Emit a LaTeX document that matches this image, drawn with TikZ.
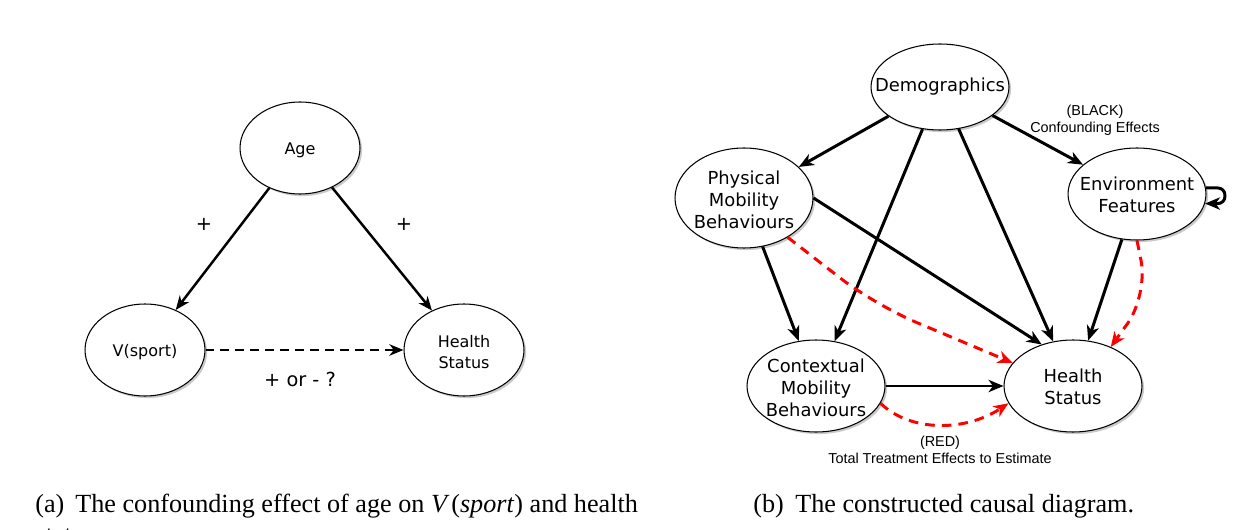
\documentclass[tikz,border=0pt]{standalone}
\usepackage{fontspec}
\setmainfont{Liberation Serif}
\newfontfamily\dvs{DejaVu Sans}
\newfontfamily\lib{Liberation Sans}
\usetikzlibrary{shapes.geometric,arrows.meta,shadows}
\begin{document}
\begin{tikzpicture}[x=0.02cm, y=-0.02cm,
  ell/.style={ellipse, draw=black, line width=0.6pt, fill=white, inner sep=0pt,
    drop shadow={shadow xshift=1.2pt, shadow yshift=-1.2pt, fill=black!60, opacity=0.35}},
  lell/.style={ell, minimum width=2.4cm, minimum height=1.84cm},
  rell/.style={ell, minimum width=2.76cm, minimum height=1.84cm},
  lt/.style={font=\dvs\fontsize{9.1}{12.3}\selectfont, align=center, inner sep=0pt},
  rt/.style={font=\dvs\fontsize{10.2}{12.5}\selectfont, align=center, inner sep=0pt},
  pl/.style={font=\dvs\fontsize{11}{13}\selectfont, inner sep=0pt},
  lab/.style={font=\lib\fontsize{8.2}{9.7}\selectfont, align=center, inner sep=0pt},
  captxt/.style={font=\fontsize{14.9}{17.9}\selectfont, inner sep=0pt, anchor=base west},
  lblk/.style={line width=1.4pt, -{Stealth[length=8pt, width=6.5pt, inset=2.5pt]}},
  ldash/.style={line width=1.4pt, dash pattern=on 5pt off 3.5pt, -{Stealth[length=8pt, width=6.5pt, inset=2.5pt]}},
  blk/.style={line width=1.7pt, -{Stealth[length=8.5pt, width=7pt, inset=2.5pt]}},
  rdash/.style={draw=red, line width=1.7pt, dash pattern=on 5.5pt off 4pt, -{Stealth[length=8.5pt, width=7pt, inset=2.5pt]}, red}
]
\useasboundingbox (0,0) rectangle (1247,530);

% ---------- left diagram ----------
\node[lell] (age) at (300,148) {};
\node[lt] (aget) at (300,150) {Age};
\node[lell] (vs) at (145,350) {};
\node[lt] (vst) at (145,352) {V(sport)};
\node[lell] (hl) at (464,350) {};
\node[lt] (hlt) at (464,352) {Health\\Status};

\draw[lblk] (age) -- (vs);
\draw[lblk] (age) -- (hl);
\draw[ldash] (vs) -- (hl);

\node[pl] (p1) at (204,224) {+};
\node[pl] (p2) at (404,224) {+};
\node[pl] (q) at (300,379) {+ or - ?};

% ---------- right diagram ----------
\node[ell, minimum width=2.76cm, minimum height=1.72cm] (demo) at (940,87) {};
\node[rt] (demot) at (940,87) {Demographics};
\node[ell, minimum width=2.76cm, minimum height=2.0cm] (phys) at (744,198) {};
\node[rt] (physt) at (744,200) {Physical\\Mobility\\Behaviours};
\node[rell] (env) at (1137,194) {};
\node[rt] (envt) at (1137,195) {Environment\\Features};
\node[rell] (ctx) at (816,386) {};
\node[rt] (ctxt) at (816,388) {Contextual\\Mobility\\Behaviours};
\node[rell] (hs) at (1073,386) {};
\node[rt] (hst) at (1073,387) {Health\\Status};

\draw[blk] (demo) -- (phys);
\draw[blk] (demo) -- (ctx);
\draw[blk] (demo) -- (hs);
\draw[blk] (demo) -- (env);
\draw[blk] (phys) -- (ctx);
\draw[blk] (phys.east) -- (hs.127);
\draw[blk] (env) -- (hs);
\draw[blk] (ctx) -- (hs);
\draw[blk, rounded corners=4pt] (env.5) -- ++(19,0) |- (env.-8);

\draw[rdash, rounded corners=25pt] (phys.-42) -- (875,305) -- (hs.159);
\draw[rdash, rounded corners=20pt] (env.south) -- (1148,295) -- (hs.46);
\draw[rdash] (ctx.-15) .. controls (910,432) and (965,432) .. (hs.195);

\node[lab] (blkl) at (1095,120) {(BLACK)\\Confounding Effects};
\node[lab] (redl) at (940,450) {(RED)\\Total Treatment Effects to Estimate};

% ---------- captions ----------
\node[captxt] (capa) at (35,512) {(a)};
\node[captxt] (capat) at (75,512) {The confounding effect of age on \textit{V}\kern1pt(\textit{sport}) and health};
\node[captxt] (capa2) at (35,543) {status.};
\node[captxt] (capb) at (753,512) {(b)};
\node[captxt] (capbt) at (795,512) {The constructed causal diagram.};
\end{tikzpicture}
\end{document}
